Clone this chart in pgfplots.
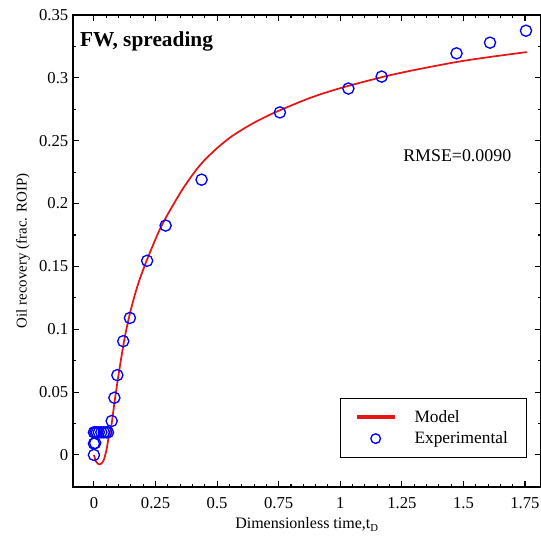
\documentclass[border=0pt]{standalone}
\usepackage{pgfplots}
\pgfplotsset{compat=1.18}
\usetikzlibrary{calc}
\usepackage{fontspec}
\setmainfont{Liberation Serif}
\definecolor{modelred}{RGB}{230,20,20}
\begin{document}
\begin{tikzpicture}[x=1pt,y=1pt]
\begin{axis}[
  scale only axis,
  width=351pt, height=354pt,
  xmin=-0.085, xmax=1.815,
  ymin=-0.0255, ymax=0.35,
  xtick={0,0.25,0.5,0.75,1,1.25,1.5,1.75},
  xticklabels={0,0.25,0.5,0.75,1,1.25,1.5,1.75},
  ytick={0,0.05,0.1,0.15,0.2,0.25,0.3,0.35},
  yticklabels={0,0.05,0.1,0.15,0.2,0.25,0.3,0.35},
  minor x tick num=4,
  minor y tick num=1,
  tick align=inside,
  major tick length=4.5pt,
  minor tick length=2.5pt,
  tick style={black, line width=0.8pt},
  axis line style={line width=0.9pt},
  ticklabel style={font=\fontsize{12.5}{14}\selectfont},
  xticklabel style={yshift=-4pt},
  xlabel={Dimensionless time,t\textsubscript{D}},
  ylabel={Oil recovery (frac. ROIP)},
  xlabel style={font=\fontsize{12}{14}\selectfont, yshift=0pt},
  ylabel style={font=\fontsize{11.2}{13}\selectfont, yshift=0pt},
  legend cell align=left,
  legend style={at={(0.970,0.0614)}, anchor=south east,
    font=\fontsize{13}{15}\selectfont, draw=black, line width=0.6pt,
    inner xsep=12pt, inner ysep=7pt, row sep=1.5pt},
]
\addplot[modelred, line width=1.3pt, smooth,
  legend image code/.code={\fill[modelred] (0pt,-0.75pt) rectangle (27pt,0.75pt);}] coordinates {
(0,0) (0.008,-0.005) (0.016,-0.007) (0.024,-0.0075) (0.032,-0.0065)
(0.04,-0.004) (0.046,0.000) (0.052,0.005) (0.058,0.012) (0.065,0.018)
(0.072,0.025) (0.085,0.044) (0.099,0.0626) (0.112,0.0786) (0.126,0.0945)
(0.146,0.1125) (0.167,0.128) (0.187,0.1405) (0.22,0.1575) (0.275,0.1825)
(0.349,0.2080) (0.40,0.2228) (0.443,0.2333) (0.5,0.2441) (0.552,0.2524)
(0.6,0.2586) (0.65,0.2643) (0.7,0.2693) (0.755,0.2742)
(0.877,0.2840) (1.0,0.2918) (1.168,0.3005) (1.3,0.3062) (1.472,0.3126)
(1.6,0.3164) (1.757,0.3205)
};
\addlegendentry{\hspace{13pt}Model}
\addplot[only marks, mark=o, blue, mark size=4.2pt, mark options={line width=1pt},
  legend image code/.code={\draw[blue, line width=1pt] (13.5pt,0pt) circle (3.6pt);}] coordinates {
(0,0) (0.0,0.009) (0.005,0.0095)
(0.0,0.018) (0.006,0.018) (0.012,0.018) (0.02,0.018) (0.03,0.018)
(0.04,0.018) (0.05,0.018) (0.057,0.018)
(0.072,0.027) (0.083,0.0455) (0.095,0.0635) (0.119,0.0905) (0.146,0.109)
(0.216,0.1545) (0.291,0.1825) (0.437,0.219) (0.755,0.2725)
(1.033,0.2915) (1.168,0.301) (1.472,0.3195) (1.608,0.328) (1.754,0.3375)
};
\addlegendentry{\hspace{13pt}Experimental}
\node[anchor=west, font=\fontsize{16}{18}\bfseries] at (axis cs:-0.075,0.329) {FW, spreading};
\node[font=\fontsize{13.4}{15}\selectfont] at (axis cs:1.475,0.238) {RMSE=0.0090};
\end{axis}
\pgfresetboundingbox
\useasboundingbox ($(current axis.south west)+(-54.75pt,-36.75pt)$) rectangle ++(405.75pt,402pt);
\end{tikzpicture}
\end{document}
